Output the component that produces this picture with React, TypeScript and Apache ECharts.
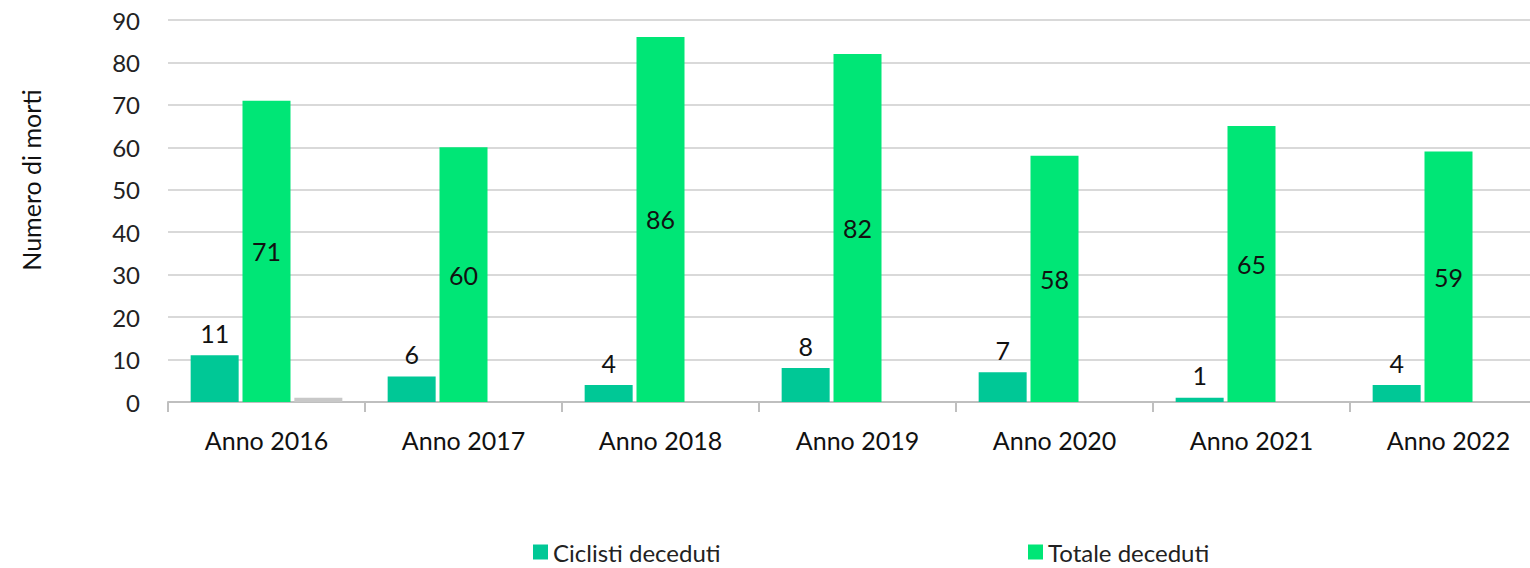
import React, { useEffect, useRef } from "react";
import * as echarts from "echarts";

const categories = ["Anno 2016", "Anno 2017", "Anno 2018", "Anno 2019", "Anno 2020", "Anno 2021", "Anno 2022"];
const ciclisti = [11, 6, 4, 8, 7, 1, 4];
const totale = [71, 60, 86, 82, 58, 65, 59];
const altro = [1, 0, 0, 0, 0, 0, 0];

const FONT = "Lato, 'Open Sans', sans-serif";

export default function App() {
  const ref = useRef<HTMLDivElement>(null);
  useEffect(() => {
    if (!ref.current) return;
    const chart = echarts.init(ref.current, undefined, { renderer: "svg" });
    const legendText = { fontSize: 24, lineHeight: 26, color: "#222", fontFamily: FONT };
    chart.setOption({
      animation: false,
      textStyle: { fontFamily: FONT },
      grid: { left: 168, width: 1379, top: 20, bottom: 166, containLabel: false },
      legend: [
        {
          data: ["Ciclisti deceduti"],
          left: 533,
          top: 539,
          padding: 0,
          itemWidth: 15,
          itemHeight: 15,
          itemGap: 8,
          icon: "rect",
          textStyle: legendText,
        },
        {
          data: ["Totale deceduti"],
          left: 1028,
          top: 539,
          padding: 0,
          itemWidth: 15,
          itemHeight: 15,
          icon: "rect",
          textStyle: legendText,
        },
      ],
      graphic: [
        {
          type: "text",
          x: 18,
          y: 180,
          rotation: Math.PI / 2,
          style: {
            text: "Numero di morti",
            fontSize: 25,
            fill: "#111",
            fontFamily: FONT,
            align: "center",
            verticalAlign: "top",
          },
        },
      ],
      xAxis: {
        type: "category",
        data: categories,
        axisLine: { lineStyle: { color: "#BFBFBF", width: 2 } },
        axisTick: { show: true, length: 10, lineStyle: { color: "#BFBFBF", width: 2 } },
        axisLabel: { fontSize: 25, color: "#111", margin: 25, fontFamily: FONT },
      },
      yAxis: {
        type: "value",
        min: 0,
        max: 90,
        interval: 10,
        axisLine: { show: false },
        axisTick: { show: false },
        splitLine: { lineStyle: { color: "#D9D9D9", width: 2 } },
        axisLabel: { fontSize: 24, color: "#222", margin: 28, fontFamily: FONT },
      },
      series: [
        {
          name: "Ciclisti deceduti",
          type: "bar",
          data: ciclisti,
          barWidth: 48,
          barGap: "8%",
          itemStyle: { color: "#00C896" },
          label: { show: true, position: "top", distance: 10, fontSize: 25, color: "#111", fontFamily: FONT },
        },
        {
          name: "Totale deceduti",
          type: "bar",
          data: totale,
          barWidth: 48,
          barGap: "8%",
          itemStyle: { color: "#00E676" },
          label: { show: true, position: "inside", fontSize: 25, color: "#111", fontFamily: FONT },
        },
        {
          name: "Altro",
          type: "bar",
          data: altro,
          barWidth: 48,
          barGap: "8%",
          itemStyle: { color: "#C8C8C8" },
          label: { show: false },
        },
      ],
    });
    return () => chart.dispose();
  }, []);
  return (
    <div style={{ position: "absolute", left: 0, top: 0, width: 1530, height: 568, overflow: "hidden" }}>
      <div ref={ref} style={{ width: 1570, height: 568 }} />
    </div>
  );
}
